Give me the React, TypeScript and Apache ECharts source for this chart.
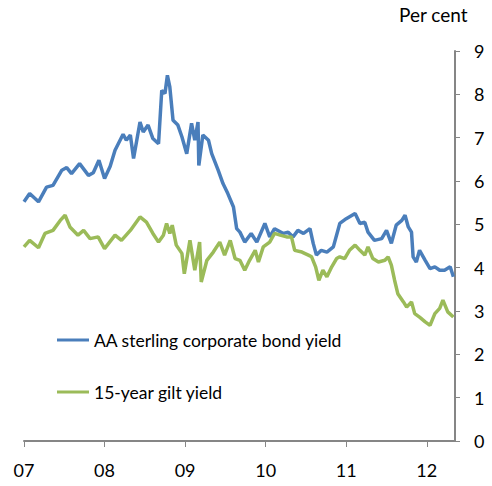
import React, { useEffect, useRef } from "react";
import * as echarts from "echarts";

const seriesNames = ["AA sterling corporate bond yield", "15-year gilt yield"];
const yearTicks = [2007, 2008, 2009, 2010, 2011, 2012];

const corpYears = [
  2007.0, 2007.07, 2007.18, 2007.28, 2007.36, 2007.47, 2007.53, 2007.59, 2007.69, 2007.8,
  2007.86, 2007.93, 2008.0, 2008.07, 2008.13, 2008.23, 2008.27, 2008.32, 2008.36, 2008.4,
  2008.44, 2008.48, 2008.54, 2008.6, 2008.67, 2008.71, 2008.75, 2008.78, 2008.81, 2008.85,
  2008.91, 2008.96, 2009.02, 2009.08, 2009.12, 2009.16, 2009.17, 2009.22, 2009.29, 2009.33,
  2009.41, 2009.47, 2009.53, 2009.6, 2009.64, 2009.68, 2009.74, 2009.82, 2009.89, 2009.99,
  2010.05, 2010.11, 2010.22, 2010.28, 2010.34, 2010.4, 2010.47, 2010.55, 2010.59, 2010.63,
  2010.69, 2010.76, 2010.84, 2010.92, 2011.0, 2011.11, 2011.17, 2011.23, 2011.27, 2011.35,
  2011.44, 2011.5, 2011.56, 2011.62, 2011.69, 2011.73, 2011.77, 2011.81, 2011.83, 2011.87,
  2011.91, 2011.98, 2012.04, 2012.1, 2012.16, 2012.22, 2012.29, 2012.33,
];
const corpYield = [
  5.52, 5.71, 5.52, 5.86, 5.9, 6.25, 6.31, 6.17, 6.4, 6.13,
  6.19, 6.48, 6.06, 6.34, 6.71, 7.08, 6.94, 7.06, 6.52, 6.94,
  7.36, 7.13, 7.29, 6.98, 6.86, 8.09, 8.02, 8.44, 8.17, 7.4,
  7.29, 7.02, 6.63, 7.33, 6.94, 7.36, 6.36, 7.06, 6.94, 6.63,
  6.25, 5.94, 5.71, 5.4, 4.9, 4.82, 4.59, 4.79, 4.59, 5.02,
  4.71, 4.9, 4.79, 4.82, 4.71, 4.86, 4.79, 4.9, 4.56, 4.29,
  4.4, 4.36, 4.48, 5.02, 5.13, 5.25, 5.02, 5.05, 4.82, 4.63,
  4.67, 4.86, 4.56, 4.98, 5.09, 5.21, 4.94, 4.82, 4.25, 4.13,
  4.4, 4.17, 3.98, 4.02, 3.94, 3.94, 4.02, 3.79,
];

const giltYears = [
  2007.0, 2007.07, 2007.18, 2007.26, 2007.36, 2007.45, 2007.51, 2007.57, 2007.67, 2007.74,
  2007.82, 2007.92, 2008.0, 2008.13, 2008.21, 2008.32, 2008.44, 2008.52, 2008.6, 2008.67,
  2008.73, 2008.77, 2008.81, 2008.84, 2008.89, 2008.96, 2008.99, 2009.06, 2009.12, 2009.18,
  2009.2, 2009.27, 2009.35, 2009.43, 2009.49, 2009.56, 2009.62, 2009.68, 2009.74, 2009.8,
  2009.87, 2009.91, 2009.97, 2010.05, 2010.11, 2010.18, 2010.26, 2010.32, 2010.36, 2010.45,
  2010.53, 2010.57, 2010.62, 2010.66, 2010.71, 2010.76, 2010.82, 2010.88, 2010.92, 2010.98,
  2011.04, 2011.11, 2011.17, 2011.23, 2011.27, 2011.33, 2011.4, 2011.48, 2011.52, 2011.56,
  2011.6, 2011.64, 2011.71, 2011.75, 2011.81, 2011.85, 2011.91, 2011.98, 2012.04, 2012.1,
  2012.16, 2012.2, 2012.26, 2012.33,
];
const giltYield = [
  4.48, 4.63, 4.46, 4.79, 4.86, 5.09, 5.21, 4.94, 4.75, 4.86,
  4.67, 4.71, 4.44, 4.75, 4.63, 4.86, 5.17, 5.05, 4.79, 4.59,
  4.75, 5.02, 4.79, 4.98, 4.52, 4.33, 3.86, 4.63, 3.94, 4.59,
  3.67, 4.17, 4.36, 4.59, 4.29, 4.63, 4.21, 4.17, 3.94, 4.17,
  4.4, 4.13, 4.48, 4.59, 4.79, 4.75, 4.71, 4.71, 4.4, 4.36,
  4.29, 4.25, 4.02, 3.71, 3.94, 3.79, 4.02, 4.21, 4.25, 4.21,
  4.4, 4.52, 4.4, 4.29, 4.48, 4.21, 4.13, 4.17, 4.25, 4.06,
  3.71, 3.4, 3.21, 3.09, 3.21, 2.94, 2.86, 2.75, 2.67, 2.94,
  3.06, 3.25, 2.98, 2.86,
];

const FONT = "Lato, 'Open Sans', sans-serif";
const AXIS_COLOR = "#868686";

export default function App() {
  const ref = useRef<HTMLDivElement>(null);
  useEffect(() => {
    if (!ref.current) return;
    const chart = echarts.init(ref.current, undefined, { renderer: "svg" });
    const corpData = corpYears.map((y, i) => [y, corpYield[i]]);
    const giltData = giltYears.map((y, i) => [y, giltYield[i]]);
    chart.setOption({
      animation: false,
      backgroundColor: "#ffffff",
      grid: { left: 24, right: 37, top: 51, bottom: 45, containLabel: false },
      graphic: [
        {
          type: "text",
          left: 399,
          top: 5,
          style: { text: "Per cent", font: `19px ${FONT}`, fill: "#000" },
        },
      ],
      legend: {
        orient: "vertical",
        left: 52,
        top: 326,
        itemGap: 34,
        itemWidth: 32,
        itemHeight: 3,
        icon: "rect",
        textStyle: { fontFamily: FONT, fontSize: 17.5, color: "#000" },
        data: seriesNames,
      },
      xAxis: {
        type: "value",
        min: 2007,
        max: 2012.35,
        interval: 1,
        splitLine: { show: false },
        axisLine: { lineStyle: { color: AXIS_COLOR, width: 2 } },
        axisTick: {
          show: true,
          length: 6,
          inside: false,
          customValues: yearTicks,
          lineStyle: { color: AXIS_COLOR, width: 1 },
        },
        axisLabel: {
          customValues: yearTicks,
          formatter: (v: number) => String(Math.round(v) % 100).padStart(2, "0"),
          fontFamily: FONT,
          fontSize: 18,
          color: "#000",
          margin: 20,
        },
      },
      yAxis: {
        type: "value",
        position: "right",
        min: 0,
        max: 9,
        interval: 1,
        splitLine: { show: false },
        axisLine: { show: true, lineStyle: { color: AXIS_COLOR, width: 2 } },
        axisTick: { show: true, length: 5, lineStyle: { color: AXIS_COLOR, width: 1 } },
        axisLabel: { fontFamily: FONT, fontSize: 18, color: "#000", margin: 19 },
      },
      series: [
        {
          name: seriesNames[0],
          type: "line",
          data: corpData,
          showSymbol: false,
          symbol: "none",
          lineStyle: { color: "#4a7ebb", width: 3.5 },
          itemStyle: { color: "#4a7ebb" },
        },
        {
          name: seriesNames[1],
          type: "line",
          data: giltData,
          showSymbol: false,
          symbol: "none",
          lineStyle: { color: "#9bbb59", width: 3.5 },
          itemStyle: { color: "#9bbb59" },
        },
      ],
    });
    return () => chart.dispose();
  }, []);
  return <div ref={ref} style={{ width: 492, height: 486, position: "absolute", left: 0, top: 0 }} />;
}
